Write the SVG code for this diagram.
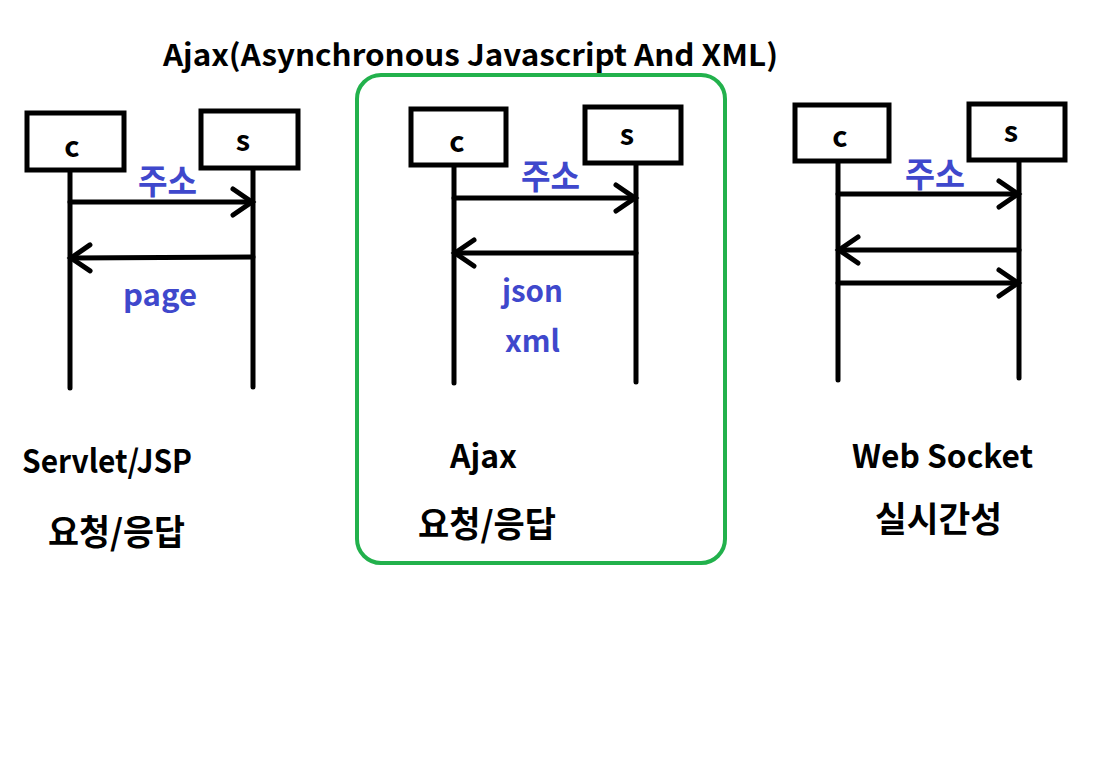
<svg xmlns="http://www.w3.org/2000/svg" width="1116" height="760" viewBox="0 0 1116 760">
<style>
.t{font-family:"Noto Sans CJK KR","Noto Sans",sans-serif;font-weight:bold;fill:#000}
.b{fill:#3f48cc}
.box{fill:#fff;stroke:#000;stroke-width:5}
.ln{stroke:#000;stroke-width:5;fill:none;stroke-linecap:round}
</style>
<defs>
<marker id="arr" markerUnits="userSpaceOnUse" markerWidth="30" markerHeight="30" viewBox="-25 -15 30 30" refX="0" refY="0" orient="auto" overflow="visible">
<path d="M-19,-13 L0,0 L-19,13" fill="none" stroke="#000" stroke-width="5" stroke-linecap="round" stroke-linejoin="miter"/>
</marker>
</defs>
<rect width="1116" height="760" fill="#fff"/>
<text class="t" x="163" y="66" font-size="30" textLength="615" lengthAdjust="spacingAndGlyphs">Ajax(Asynchronous Javascript And XML)</text>
<g id="ajax-frame"><rect x="357" y="75" width="368" height="488" rx="24" fill="none" stroke="#22b14c" stroke-width="4"/></g>
<g id="connectors">
<line class="ln" x1="70" y1="170" x2="70" y2="388"/>
<line class="ln" x1="253" y1="168" x2="253" y2="387"/>
<line class="ln" x1="70" y1="202" x2="252" y2="202" marker-end="url(#arr)"/>
<line class="ln" x1="253" y1="257" x2="71" y2="258" marker-end="url(#arr)"/>
<line class="ln" x1="454" y1="167" x2="454" y2="383"/>
<line class="ln" x1="636" y1="164" x2="636" y2="382"/>
<line class="ln" x1="454" y1="198" x2="635" y2="198" marker-end="url(#arr)"/>
<line class="ln" x1="636" y1="253" x2="455" y2="253" marker-end="url(#arr)"/>
<line class="ln" x1="838" y1="163" x2="838" y2="380"/>
<line class="ln" x1="1019" y1="162" x2="1019" y2="378"/>
<line class="ln" x1="838" y1="194" x2="1018" y2="194" marker-end="url(#arr)"/>
<line class="ln" x1="1019" y1="250" x2="839" y2="250" marker-end="url(#arr)"/>
<line class="ln" x1="838" y1="283" x2="1018" y2="283" marker-end="url(#arr)"/>
</g>
<g id="c1"><rect class="box" x="27" y="113" width="97" height="57"/><text class="t" x="72" y="157" font-size="29" text-anchor="middle">c</text></g>
<g id="s1"><rect class="box" x="201" y="111" width="97" height="57"/><text class="t" x="243" y="151" font-size="29" text-anchor="middle">s</text></g>
<g id="c2"><rect class="box" x="411" y="109" width="95" height="56"/><text class="t" x="457" y="152" font-size="29" text-anchor="middle">c</text></g>
<g id="s2"><rect class="box" x="585" y="107" width="96" height="56"/><text class="t" x="627" y="145" font-size="29" text-anchor="middle">s</text></g>
<g id="c3"><rect class="box" x="795" y="105" width="94" height="56"/><text class="t" x="840" y="147" font-size="29" text-anchor="middle">c</text></g>
<g id="s3"><rect class="box" x="969" y="104" width="96" height="56"/><text class="t" x="1011" y="142" font-size="29" text-anchor="middle">s</text></g>
<g id="labels">
<text class="t b" x="138" y="194" font-size="34" textLength="59" lengthAdjust="spacingAndGlyphs">주소</text>
<text class="t b" x="123" y="306" font-size="30" textLength="74" lengthAdjust="spacingAndGlyphs">page</text>
<text class="t b" x="521" y="189" font-size="34" textLength="59" lengthAdjust="spacingAndGlyphs">주소</text>
<text class="t b" x="502" y="302" font-size="30" textLength="61" lengthAdjust="spacingAndGlyphs">json</text>
<text class="t b" x="505" y="352" font-size="30" textLength="55" lengthAdjust="spacingAndGlyphs">xml</text>
<text class="t b" x="905" y="187" font-size="34" textLength="60" lengthAdjust="spacingAndGlyphs">주소</text>
<text class="t" x="22" y="473" font-size="32" textLength="170" lengthAdjust="spacingAndGlyphs">Servlet/JSP</text>
<text class="t" x="48" y="545" font-size="35" textLength="137" lengthAdjust="spacingAndGlyphs">요청/응답</text>
<text class="t" x="450" y="468" font-size="32" textLength="67" lengthAdjust="spacingAndGlyphs">Ajax</text>
<text class="t" x="418" y="537" font-size="35" textLength="138" lengthAdjust="spacingAndGlyphs">요청/응답</text>
<text class="t" x="852" y="468" font-size="32" textLength="181" lengthAdjust="spacingAndGlyphs">Web Socket</text>
<text class="t" x="875" y="532" font-size="35" textLength="127" lengthAdjust="spacingAndGlyphs">실시간성</text>
</g>
</svg>
